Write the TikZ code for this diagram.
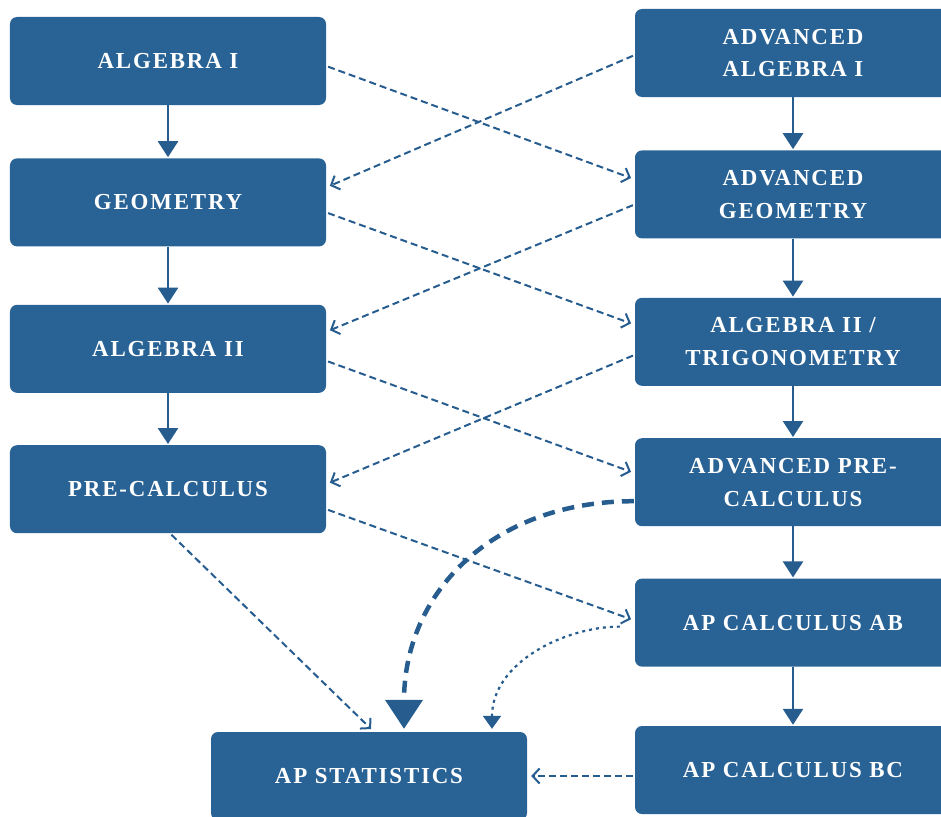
\documentclass[tikz,border=0pt]{standalone}
\usepackage{fontspec}
\setmainfont{Liberation Serif}[LetterSpace=8]
\usetikzlibrary{arrows.meta,positioning}
\definecolor{boxblue}{RGB}{41,98,148}
\definecolor{linkblue}{RGB}{38,92,142}

\begin{document}
\begin{tikzpicture}[x=1bp, y=1bp, node distance=53bp,
    every node/.style={font=\fontsize{23}{33}\selectfont\bfseries, align=center},
    course/.style={fill=boxblue, text=white, rounded corners=7bp, minimum width=316bp, minimum height=88bp, inner sep=0pt},
    down/.style={draw=linkblue, line width=2.6bp, -{Triangle[width=20bp,length=16bp]}, shorten >=1bp},
    link/.style={draw=linkblue, line width=2bp, dash pattern=on 7bp off 4bp, -{Straight Barb[length=7bp,width=15bp]}, shorten <=2bp, shorten >=4bp}]
    \useasboundingbox (0,0) rectangle (941,-817);
    % regular track
    \node[course] at (168,-61) (alg1) {ALGEBRA I};
    \node[course, below=53bp of alg1] (geom) {GEOMETRY};
    \node[course, below=58bp of geom] (alg2) {ALGEBRA II};
    \node[course, below=52bp of alg2] (precalc) {PRE-CALCULUS};
    % advanced track
    \node[course] at (793,-53) (advalg1) {ADVANCED\\ALGEBRA I};
    \node[course, below=53bp of advalg1] (advgeom) {ADVANCED\\GEOMETRY};
    \node[course, below=59bp of advgeom] (algtrig) {ALGEBRA II /\\TRIGONOMETRY};
    \node[course, below=52bp of algtrig] (advpre) {ADVANCED PRE-\\CALCULUS};
    \node[course, below=52bp of advpre] (apab) {AP CALCULUS AB};
    \node[course, below=59bp of apab] (apbc) {AP CALCULUS BC};
    \node[course] at (369,-776) (stats) {AP STATISTICS};

    \draw[down] (alg1) -- (geom);
    \draw[down] (geom) -- (alg2);
    \draw[down] (alg2) -- (precalc);
    \draw[down] (advalg1) -- (advgeom);
    \draw[down] (advgeom) -- (algtrig);
    \draw[down] (algtrig) -- (advpre);
    \draw[down] (advpre) -- (apab);
    \draw[down] (apab) -- (apbc);

    % switching between tracks
    \draw[link] ([yshift=-5bp]alg1.east) -- ([yshift=15bp]advgeom.west);
    \draw[link] ([yshift=-2bp]advalg1.west) -- ([yshift=15bp]geom.east);
    \draw[link] ([yshift=-10bp]geom.east) -- ([yshift=17bp]algtrig.west);
    \draw[link] ([yshift=-10bp]advgeom.west) -- ([yshift=17bp]alg2.east);
    \draw[link] ([yshift=-12bp]alg2.east) -- ([yshift=9bp]advpre.west);
    \draw[link] ([yshift=-13bp]algtrig.west) -- ([yshift=5bp]precalc.east);
    \draw[link] ([yshift=-20bp]precalc.east) -- ([yshift=2bp]apab.west);
    \draw[link] ([xshift=2bp]precalc.south) -- ([xshift=5bp]stats.north);
    \draw[link] (stats.east -| apbc.west) -- (stats.east);

    % into statistics
    \draw[draw=linkblue, line width=4.5bp, dash pattern=on 12bp off 8bp, -{Triangle[width=37bp,length=29bp]}, shorten <=1bp, shorten >=3bp]
        ([yshift=-19bp]advpre.west) to[out=180, in=90, looseness=1.1] ([xshift=35bp]stats.north);
    \draw[draw=linkblue, line width=2.2bp, dash pattern=on 3bp off 4bp, -{Triangle[width=18bp,length=13bp]}, shorten <=15bp, shorten >=3bp]
        ([yshift=-4bp]apab.west) to[out=180, in=90] ([xshift=123bp]stats.north);
\end{tikzpicture}
\end{document}
